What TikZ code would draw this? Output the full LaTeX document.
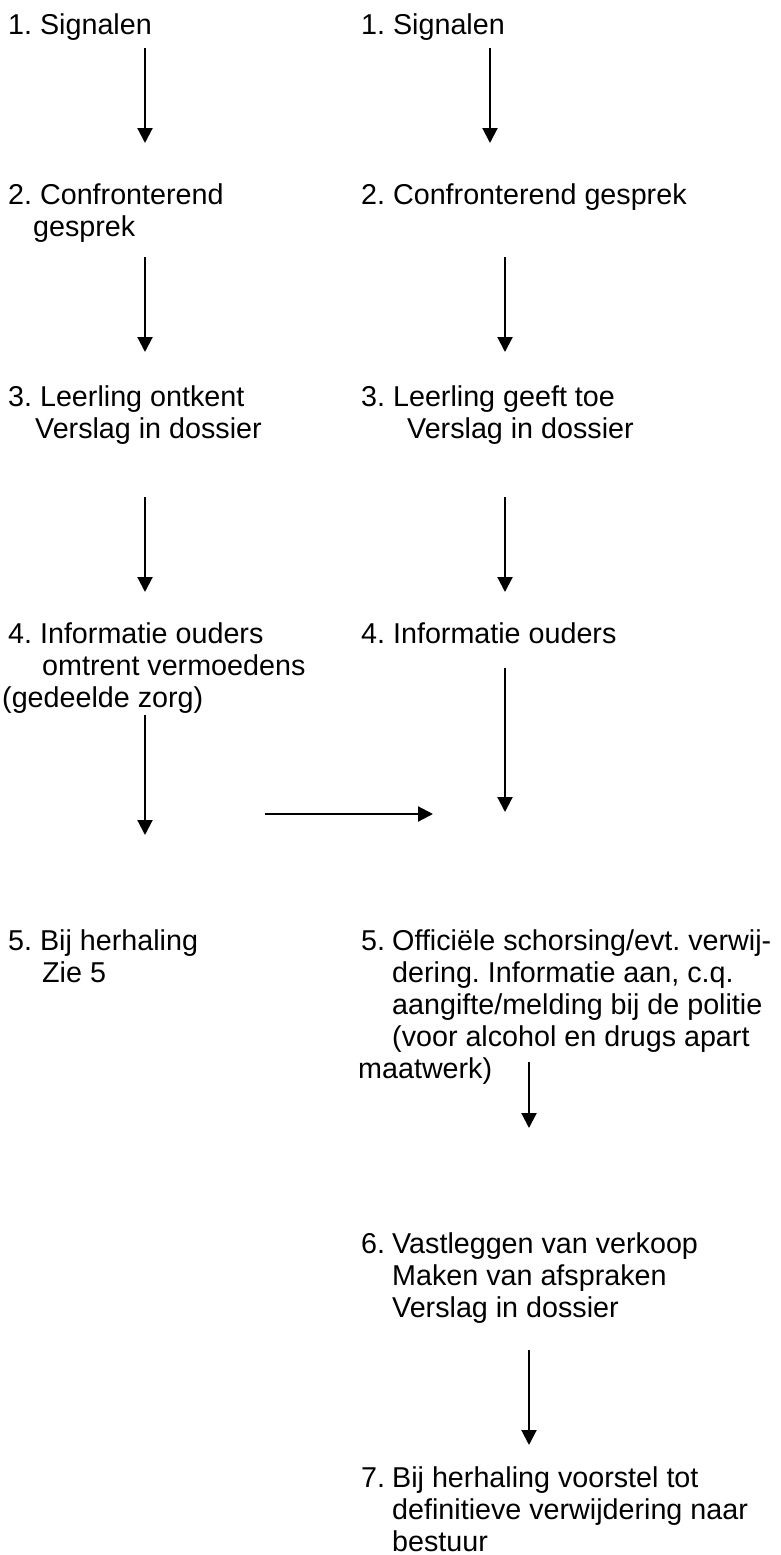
\documentclass[tikz,border=0pt]{standalone}
\usepackage{fontspec}
\setmainfont{Liberation Sans}
\usetikzlibrary{arrows.meta}
\frenchspacing
\newcommand\Blk[1]{\vtop{\baselineskip=32pt\lineskiplimit=-100pt\lineskip=0pt #1}}
\newcommand\Ln[2]{\hbox{\kern#1pt #2}}
\newcommand\Num[1]{\hbox to 31pt{#1\hfil}}
\begin{document}
\begin{tikzpicture}[x=1pt,y=-1pt,
  txt/.style={anchor=base west,inner sep=0pt,font=\fontsize{28.7}{32}\selectfont\frenchspacing},
  arr/.style={line width=2.1pt,-{Triangle[width=15pt,length=15pt]}}]
\useasboundingbox (0,0) rectangle (780,1555);
% left column
\node[txt] (l1) at (8,35) {\Blk{\Ln{0}{1. Signalen}}};
\node[txt] (l2) at (8,204) {\Blk{\Ln{0}{2. Confronterend}\Ln{25}{gesprek}}};
\node[txt] (l3) at (8,406) {\Blk{\Ln{0}{3. Leerling ontkent}\Ln{27}{Verslag in dossier}}};
\node[txt] (l4) at (8,643) {\Blk{\Ln{0}{4. Informatie ouders}\Ln{34}{omtrent vermoedens}\Ln{-6}{(gedeelde zorg)}}};
\node[txt] (l5) at (8,950) {\Blk{\Ln{0}{5. Bij herhaling}\Ln{34}{Zie 5}}};
% right column
\node[txt] (r1) at (361,35) {\Blk{\Ln{0}{1. Signalen}}};
\node[txt] (r2) at (361,204) {\Blk{\Ln{0}{2. Confronterend gesprek}}};
\node[txt] (r3) at (361,406) {\Blk{\Ln{0}{3. Leerling geeft toe}\Ln{46}{Verslag in dossier}}};
\node[txt] (r4) at (361,643) {\Blk{\Ln{0}{4. Informatie ouders}}};
\node[txt] (r5) at (361,950) {\Blk{\hbox{\Num{5.}Officiële schorsing/evt. verwij-}\Ln{31}{dering. Informatie aan, c.q.}\Ln{31}{aangifte/melding bij de politie}\Ln{31}{(voor alcohol en drugs apart}\Ln{-3}{maatwerk)}}};
\node[txt] (r6) at (361,1253) {\Blk{\hbox{\Num{6.}Vastleggen van verkoop}\Ln{31}{Maken van afspraken}\Ln{31}{Verslag in dossier}}};
\node[txt] (r7) at (361,1487) {\Blk{\hbox{\Num{7.}Bij herhaling voorstel tot}\Ln{31}{definitieve verwijdering naar}\Ln{31}{bestuur}}};
% arrow end points
\coordinate (a1s) at (145,48);  \coordinate (a1e) at (145,143);
\coordinate (b1s) at (490,48);  \coordinate (b1e) at (490,143);
\coordinate (a2s) at (145,257); \coordinate (a2e) at (145,352);
\coordinate (b2s) at (505,257); \coordinate (b2e) at (505,352);
\coordinate (a3s) at (145,497); \coordinate (a3e) at (145,592);
\coordinate (b3s) at (505,497); \coordinate (b3e) at (505,592);
\coordinate (a4s) at (145,715); \coordinate (a4e) at (145,835);
\coordinate (b4s) at (505,668); \coordinate (b4e) at (505,812);
\coordinate (hs) at (265,814);  \coordinate (he) at (433,814);
\coordinate (b5s) at (529,1062); \coordinate (b5e) at (529,1128);
\coordinate (b6s) at (529,1350); \coordinate (b6e) at (529,1445);
\draw[arr] (a1s) -- (a1e);
\draw[arr] (b1s) -- (b1e);
\draw[arr] (a2s) -- (a2e);
\draw[arr] (b2s) -- (b2e);
\draw[arr] (a3s) -- (a3e);
\draw[arr] (b3s) -- (b3e);
\draw[arr] (a4s) -- (a4e);
\draw[arr] (b4s) -- (b4e);
\draw[arr] (hs) -- (he);
\draw[arr] (b5s) -- (b5e);
\draw[arr] (b6s) -- (b6e);
\end{tikzpicture}
\end{document}
